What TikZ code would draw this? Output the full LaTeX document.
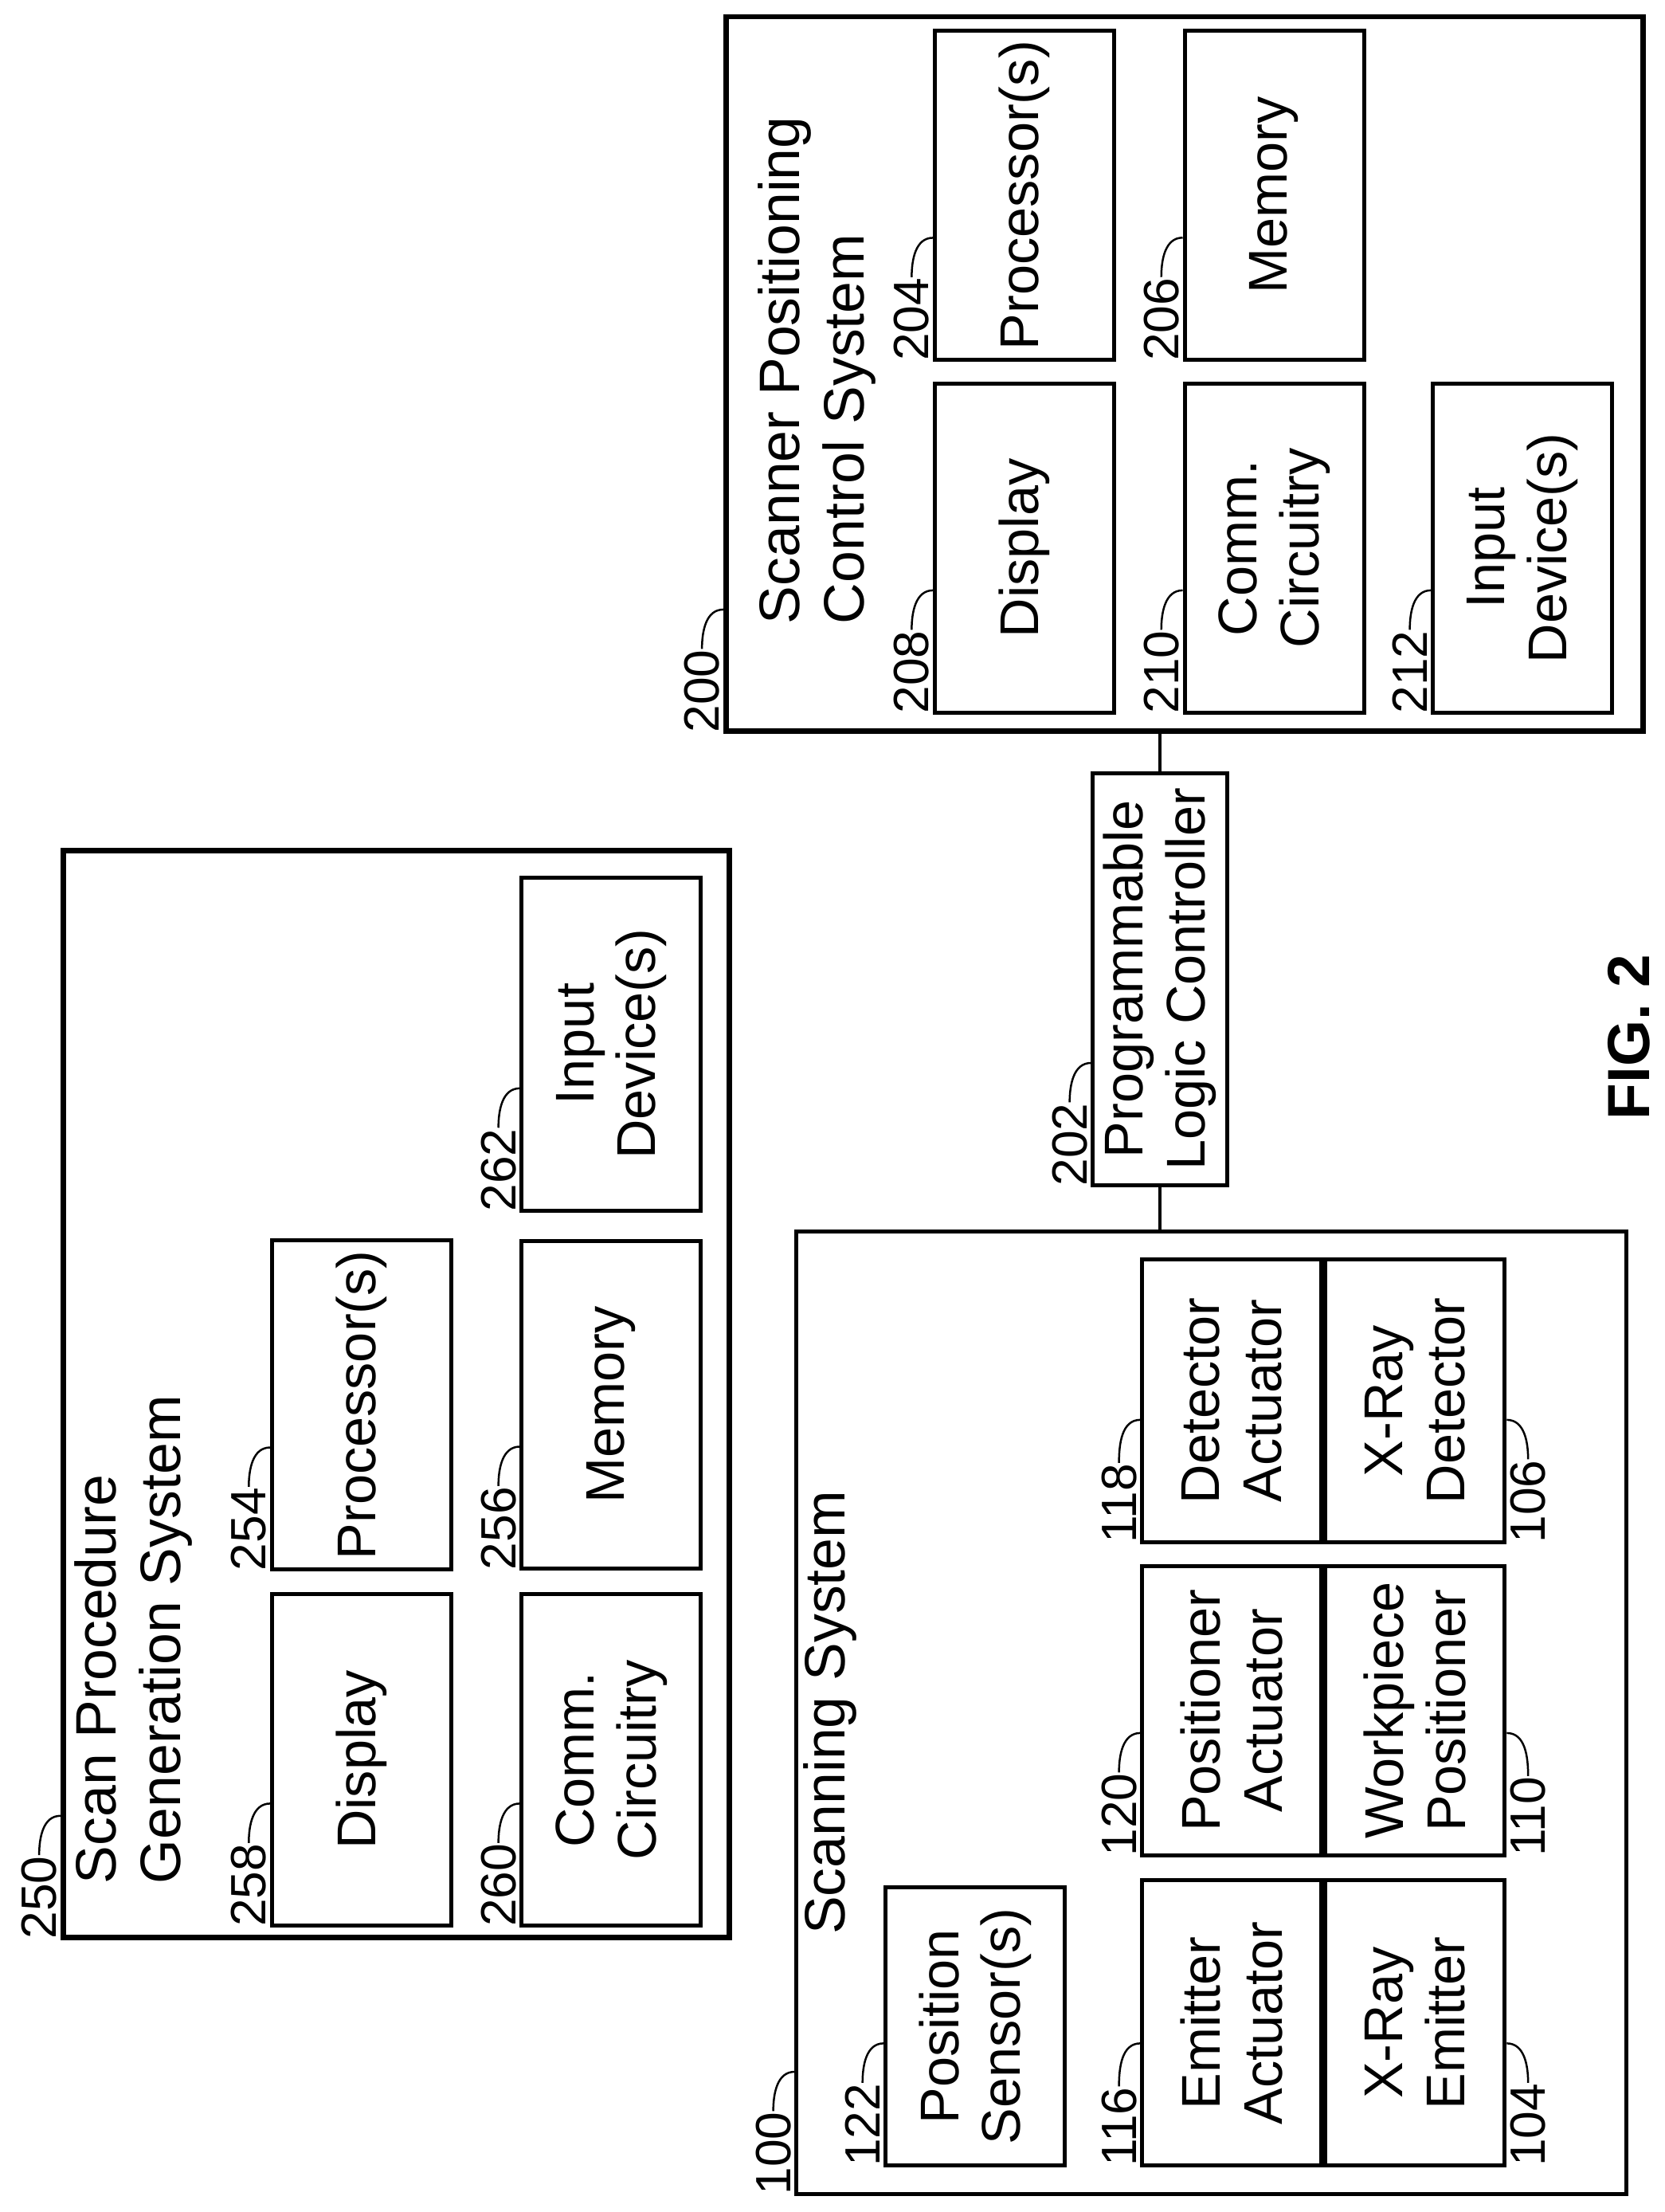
\documentclass[tikz,border=0pt]{standalone}
\usepackage{fontspec}
\setmainfont{Liberation Sans}
\usetikzlibrary{calc,positioning}

% reference numeral with its curved leader
\newcommand{\numtop}[2]{%
  \node[num,anchor=south west] (n#2) at ($(#1.north west)+(0,2)$) {#2};
  \draw[lead] (n#2.east) to[out=0,in=90] ($(#1.north west)+(88,0)$);}
\newcommand{\numbot}[2]{%
  \node[num,anchor=north west] (n#2) at ($(#1.south west)+(0,-2)$) {#2};
  \draw[lead] (n#2.east) to[out=0,in=-90] ($(#1.south west)+(88,0)$);}

\begin{document}
\begin{tikzpicture}[x=0.01cm,y=0.01cm,rotate=90,transform shape,
  blk/.style={draw,line width=0.8pt,align=center,inner sep=2pt,font=\fontsize{11}{12.5}\selectfont,minimum height=1.27cm},
  outer/.style={draw,line width=1.1pt,inner sep=0pt},
  ttl/.style={align=left,inner sep=0pt,font=\fontsize{11.5}{13}\selectfont},
  num/.style={inner sep=0pt,font=\fontsize{10}{11}\selectfont},
  lead/.style={line width=0.4pt}]
  \useasboundingbox (0,0) rectangle (1568,1180);

  % scan procedure generation system
  \node[outer,minimum width=7.70cm,minimum height=4.72cm] (sys250) at (580,899) {};
  \node[ttl,anchor=north west] (t250) at (232,1128) {Scan Procedure\\Generation System};
  \node[blk,minimum width=2.35cm] (disp258) at (320.5,923.5) {Display};
  \node[blk,minimum width=2.32cm] (proc254) at (572,923.5) {Processor(s)};
  \node[blk,minimum width=2.35cm] (comm260) at (320.5,746.5) {Comm.\\Circuitry};
  \node[blk,minimum width=2.32cm] (mem256) at (572,746.5) {Memory};
  \node[blk,minimum width=2.36cm] (inp262) at (828,746.5) {Input\\Device(s)};

  % scanner positioning control system
  \node[outer,minimum width=5.06cm,minimum height=6.50cm] (sys200) at (1303,340) {};
  \node[ttl,anchor=north west] (t200) at (1125,643) {Scanner Positioning\\Control System};
  \node[blk,minimum width=2.33cm] (disp208) at (1179.5,453.5) {Display};
  \node[blk,minimum width=2.33cm] (proc204) at (1429.5,453.5) {Processor(s)};
  \node[blk,minimum width=2.33cm] (comm210) at (1179.5,276.5) {Comm.\\Circuitry};
  \node[blk,minimum width=2.33cm] (mem206) at (1429.5,276.5) {Memory};
  \node[blk,minimum width=2.33cm] (inp212) at (1179.5,100.5) {Input\\Device(s)};

  % controller
  \node[blk,minimum width=2.92cm,minimum height=0.95cm] (plc202) at (874,357.5) {Programmable\\Logic Controller};

  % scanning system
  \node[draw,line width=0.8pt,minimum width=6.82cm,minimum height=5.88cm] (sys100) at (354,321) {};
  \node[ttl,anchor=north west] (t100) at (196,611) {Scanning System};
  \node[blk,minimum width=1.97cm] (pos122) at (131.5,488.5) {Position\\Sensor(s)};
  \node[blk,minimum width=2.02cm] (emact116) at (134,306.5) {Emitter\\Actuator};
  \node[blk,minimum width=2.02cm,below=0pt of emact116] (emit104) {X-Ray\\Emitter};
  \node[blk,minimum width=2.05cm] (posact120) at (355.5,306.5) {Positioner\\Actuator};
  \node[blk,minimum width=2.05cm,below=0pt of posact120] (wpos110) {Workpiece\\Positioner};
  \node[blk,minimum width=2.00cm] (detact118) at (575,306.5) {Detector\\Actuator};
  \node[blk,minimum width=2.00cm,below=0pt of detact118] (det106) {X-Ray\\Detector};

  \draw[line width=0.6pt] (sys100.east|-plc202.west) -- (plc202.west);
  \draw[line width=0.6pt] (plc202.east) -- (sys200.west|-plc202.east);

  \numtop{sys250}{250}
  \numtop{disp258}{258}
  \numtop{proc254}{254}
  \numtop{comm260}{260}
  \numtop{mem256}{256}
  \numtop{inp262}{262}
  \numtop{sys200}{200}
  \numtop{disp208}{208}
  \numtop{proc204}{204}
  \numtop{comm210}{210}
  \numtop{mem206}{206}
  \numtop{inp212}{212}
  \numtop{plc202}{202}
  \numtop{sys100}{100}
  \numtop{pos122}{122}
  \numtop{emact116}{116}
  \numtop{posact120}{120}
  \numtop{detact118}{118}
  \numbot{emit104}{104}
  \numbot{wpos110}{110}
  \numbot{det106}{106}

  \node[font=\bfseries\fontsize{12}{14}\selectfont] (fig) at (833,25) {FIG. 2};
\end{tikzpicture}
\end{document}
